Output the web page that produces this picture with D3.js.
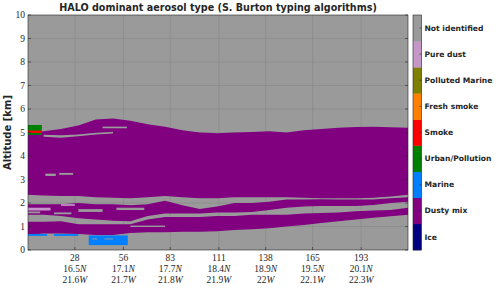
<!DOCTYPE html>
<html>
<head>
<meta charset="utf-8">
<script src="https://cdn.jsdelivr.net/npm/d3@7"></script>
<style>
  body { margin: 0; background: #fff; }
  svg text { fill: #262626; }
</style>
</head>
<body>
<div id="chart"></div>
<script>
// Aerosol classes, bottom to top of the colour bar
const categories = ["Ice", "Dusty mix", "Marine", "Urban/Pollution", "Smoke",
  "Fresh smoke", "Polluted Marine", "Pure dust", "Not identified"];
const catColors = ["#000080", "#800080", "#0080ff", "#008000", "#ff0000",
  "#ff8000", "#808000", "#c497c8", "#9a9a9a"];

// x axis ticks (distance index) with lat / lon
const xTicks = [28, 56, 83, 111, 138, 165, 193];
const latLabels = ["16.5", "17.1", "17.7", "18.4", "18.9", "19.5", "20.1"];
const lonLabels = ["21.6", "21.7", "21.8", "21.9", "22", "22.1", "22.3"];
const yTicks = [0, 1, 2, 3, 4, 5, 6, 7, 8, 9, 10];

// Dusty mix layer, read column by column (km)
const cols      = [1, 10, 20, 30, 40, 50, 60, 70, 80, 90, 100, 110, 120, 130, 140, 150, 160, 170, 180, 190, 200, 210, 220];
const layerTop  = [5.0, 5.05, 5.15, 5.3, 5.55, 5.6, 5.5, 5.35, 5.25, 5.1, 5.0, 4.97, 5.0, 5.02, 5.05, 5.0, 5.1, 5.15, 5.2, 5.23, 5.25, 5.22, 5.2];
const layerBase = [0.65, 0.7, 0.7, 0.68, 0.64, 0.64, 0.72, 0.76, 0.76, 0.78, 0.78, 0.8, 0.85, 0.88, 0.93, 1.0, 1.06, 1.15, 1.22, 1.3, 1.37, 1.44, 1.5];

// gaps (not identified) inside the layer
const gapTopLo = [null, 4.82, 4.78, 4.84, 4.92, 4.96, null, null, null, null, null, null, null, null, null, null, null, null, null, null, null, null, null];
const gapTopHi = [null, 4.9, 4.88, 4.92, 4.99, 5.03, null, null, null, null, null, null, null, null, null, null, null, null, null, null, null, null, null];
const gapMidLo = [1.95, 1.95, 1.95, 2.0, 1.95, 1.95, 1.9, 1.95, 2.1, 1.9, 1.75, 1.85, 2.0, 2.0, 2.05, 2.15, 2.15, 2.16, 2.15, 2.15, 2.15, 2.2, 2.25];
const gapMidHi = [2.35, 2.32, 2.3, 2.3, 2.25, 2.22, 2.2, 2.25, 2.3, 2.25, 2.2, 2.2, 2.25, 2.25, 2.25, 2.25, 2.22, 2.2, 2.2, 2.2, 2.22, 2.28, 2.35];
const gapLowLo = [1.2, 1.2, 1.22, 1.1, 1.1, 1.1, 1.1, 1.3, 1.4, 1.4, 1.4, 1.45, 1.45, 1.5, 1.5, 1.5, 1.55, 1.57, 1.6, 1.65, 1.68, 1.7, 1.8];
const gapLowHi = [1.5, 1.5, 1.45, 1.35, 1.3, 1.25, 1.22, 1.45, 1.55, 1.55, 1.55, 1.6, 1.6, 1.62, 1.7, 1.8, 1.85, 1.87, 1.87, 1.87, 1.92, 2.0, 2.05];

// small patches: class index, x from, x to, altitude from, altitude to
const patchCat = [3, 4, 7, 7, 2, 2, 2, 8, 8, 8, 8, 8, 8, 8, 8, 8, 8];
const patchX0  = [1, 1, 1, 20, 1, 16, 36, 11, 19, 38, 45, 1, 16, 30, 52, 44, 60];
const patchX1  = [9, 9, 14, 28, 12, 30, 58.5, 17, 27, 41, 50, 8, 26, 44, 68, 58, 80];
const patchLo  = [4.9, 4.98, 1.68, 1.88, 0.6, 0.6, 0.21, 3.15, 3.2, 0.45, 0.45, 1.56, 1.52, 1.62, 1.7, 5.18, 0.98];
const patchHi  = [5.32, 5.08, 1.8, 1.95, 0.68, 0.68, 0.62, 3.25, 3.28, 0.49, 0.49, 1.64, 1.6, 1.74, 1.8, 5.25, 1.04];

const W = 500, H = 288;
const m = { left: 28, top: 15, right: 92, bottom: 38 };
const pw = W - m.left - m.right, ph = H - m.top - m.bottom;

const svg = d3.select("#chart").append("svg")
  .attr("width", W).attr("height", H)
  .style("font-family", "'Liberation Serif', serif");

const x = d3.scaleLinear().domain([1, 220]).range([m.left, m.left + pw]);
const y = d3.scaleLinear().domain([0, 10]).range([m.top + ph, m.top]);
const color = d3.scaleOrdinal().domain(d3.range(categories.length)).range(catColors);

// background = not identified
svg.append("rect").attr("x", m.left).attr("y", m.top)
  .attr("width", pw).attr("height", ph).attr("fill", color(8));

// grid
const grid = svg.append("g").attr("stroke", "#888").attr("stroke-width", 0.6);
grid.selectAll(".gx").data(xTicks).join("line")
  .attr("x1", d => x(d)).attr("x2", d => x(d)).attr("y1", m.top).attr("y2", m.top + ph);
grid.selectAll(".gy").data(yTicks.slice(1, -1)).join("line")
  .attr("y1", d => y(d)).attr("y2", d => y(d)).attr("x1", m.left).attr("x2", m.left + pw);

// dusty mix layer with holes (evenodd) so background + grid show through
const mk = (lo, hi) => d3.area()
  .defined((d, i) => lo[i] != null && hi[i] != null)
  .x(d => x(d)).y0((d, i) => y(lo[i])).y1((d, i) => y(hi[i]))
  .curve(d3.curveLinear)(cols);
const layerPath = [mk(layerBase, layerTop), mk(gapTopLo, gapTopHi),
  mk(gapMidLo, gapMidHi), mk(gapLowLo, gapLowHi)].join("");
svg.append("path").attr("d", layerPath).attr("fill", color(1))
  .attr("fill-rule", "evenodd");

// patches
svg.append("g").selectAll("rect").data(patchCat).join("rect")
  .attr("x", (d, i) => x(patchX0[i]))
  .attr("width", (d, i) => x(patchX1[i]) - x(patchX0[i]))
  .attr("y", (d, i) => y(patchHi[i]))
  .attr("height", (d, i) => y(patchLo[i]) - y(patchHi[i]))
  .attr("fill", d => color(d));

// frame and ticks
svg.append("rect").attr("x", m.left).attr("y", m.top).attr("width", pw).attr("height", ph)
  .attr("fill", "none").attr("stroke", "#262626").attr("stroke-width", 0.6);
const tk = svg.append("g").attr("stroke", "#262626").attr("stroke-width", 0.6);
tk.selectAll(".ty").data(yTicks).join("line")
  .attr("x1", m.left).attr("x2", m.left + 3).attr("y1", d => y(d)).attr("y2", d => y(d));
tk.selectAll(".ty2").data(yTicks).join("line")
  .attr("x1", m.left + pw).attr("x2", m.left + pw - 3).attr("y1", d => y(d)).attr("y2", d => y(d));
tk.selectAll(".tx").data(xTicks).join("line")
  .attr("x1", d => x(d)).attr("x2", d => x(d)).attr("y1", m.top + ph).attr("y2", m.top + ph - 3);

// y tick labels
svg.append("g").selectAll("text").data(yTicks).join("text")
  .attr("x", m.left - 3).attr("y", d => y(d)).attr("dy", "0.33em")
  .attr("text-anchor", "end").attr("font-size", 9.5).text(d => d);

// x tick labels, three rows
const xl = svg.append("g").attr("font-size", 9.5).attr("text-anchor", "middle");
xl.selectAll(".r1").data(xTicks).join("text")
  .attr("x", d => x(d)).attr("y", m.top + ph + 11).text(d => d);
const row = (labels, suffix, yy) => {
  const t = xl.append("g").selectAll("text").data(labels).join("text")
    .attr("x", (d, i) => x(xTicks[i])).attr("y", yy);
  t.append("tspan").text(d => d);
  t.append("tspan").attr("font-style", "italic").text(suffix);
};
row(latLabels, "N", m.top + ph + 22);
row(lonLabels, "W", m.top + ph + 33);

// title and y label
svg.append("text").attr("x", m.left + pw / 2).attr("y", 11)
  .attr("text-anchor", "middle").attr("font-family", "'DejaVu Sans', sans-serif")
  .attr("font-weight", "bold").attr("font-size", 9.6)
  .text("HALO dominant aerosol type (S. Burton typing algorithms)");
svg.append("text").attr("transform", `translate(11,${m.top + ph / 2}) rotate(-90)`)
  .attr("text-anchor", "middle").attr("font-family", "'DejaVu Sans', sans-serif")
  .attr("font-weight", "bold").attr("font-size", 10).text("Altitude [km]");

// colour bar
const cbX = 413, cbW = 8.5;
const cb = d3.scaleBand().domain(d3.range(categories.length)).range([m.top + ph, m.top]);
svg.append("g").selectAll("rect").data(categories).join("rect")
  .attr("x", cbX).attr("width", cbW)
  .attr("y", (d, i) => cb(i)).attr("height", cb.bandwidth() + 0.3)
  .attr("fill", (d, i) => color(i));
svg.append("rect").attr("x", cbX).attr("y", m.top).attr("width", cbW).attr("height", ph)
  .attr("fill", "none").attr("stroke", "#262626").attr("stroke-width", 0.6);
svg.append("g").attr("stroke", "#262626").attr("stroke-width", 0.6)
  .selectAll("line").data(categories).join("line")
  .attr("x1", cbX + cbW).attr("x2", cbX + cbW - 2)
  .attr("y1", (d, i) => cb(i) + cb.bandwidth() / 2).attr("y2", (d, i) => cb(i) + cb.bandwidth() / 2);
svg.append("g").selectAll("text").data(categories).join("text")
  .attr("x", cbX + cbW + 3).attr("y", (d, i) => cb(i) + cb.bandwidth() / 2).attr("dy", "0.35em")
  .attr("font-family", "'DejaVu Sans', sans-serif").attr("font-weight", "bold")
  .attr("font-size", 7.6).text(d => d);
</script>
</body>
</html>
